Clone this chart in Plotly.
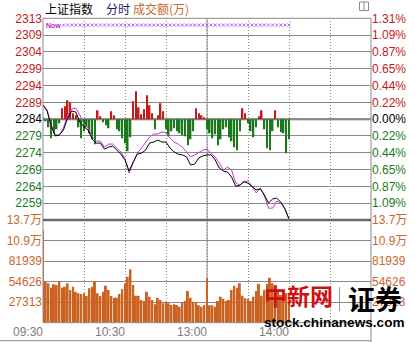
import plotly.graph_objects as go

# ---------------- data ----------------
# time axis: trading minutes after 09:30 (11:30 and 13:00 share minute 120)
grid_minutes = [0, 30, 60, 90, 120, 150, 180, 210, 240]
time_labels = ["09:30", "", "10:30", "", "13:00", "", "14:00", "", ""]

prev_close = 2284.0
price_step = 4.987
price_levels = [6, 5, 4, 3, 2, 1, 0, -1, -2, -3, -4, -5]
price_labels = ["2313", "2309", "2304", "2299", "2294", "2289", "2284",
                "2279", "2274", "2269", "2264", "2259"]
pct_labels = ["1.31%", "1.09%", "0.87%", "0.65%", "0.44%", "0.22%", "0.00%",
              "0.22%", "0.44%", "0.65%", "0.87%", "1.09%"]

vol_max = 136565
vol_ticks = [27313, 54626, 81939, 109252, 136565]
vol_labels = ["27313", "54626", "81939", "10.9万", "13.7万"]

line_minutes = list(range(0, 181, 3))
index_close = [
    2288.2, 2286.4, 2282.0, 2279.0, 2279.3, 2280.8, 2284.3, 2286.4, 2286.1, 2283.1,
    2281.7, 2280.8, 2278.1, 2276.9, 2276.9, 2275.1, 2275.7, 2276.0, 2274.8, 2273.6,
    2271.9, 2268.6, 2271.3, 2273.6, 2273.9, 2274.8, 2276.9, 2277.2, 2277.8, 2277.2,
    2277.2, 2275.4, 2274.3, 2273.6, 2273.4, 2272.8, 2270.4, 2270.7, 2272.5, 2273.1,
    2273.4, 2273.4, 2271.9, 2269.5, 2268.6, 2268.3, 2266.8, 2264.1, 2264.4, 2265.4,
    2265.0, 2263.9, 2263.0, 2263.3, 2261.5, 2259.1, 2260.3, 2260.6, 2259.4, 2257.4,
    2254.4]
index_avg = [
    2288.2, 2286.7, 2282.3, 2279.3, 2279.3, 2281.4, 2285.2, 2287.0, 2287.3, 2285.2,
    2282.5, 2281.4, 2278.7, 2277.5, 2277.5, 2275.7, 2276.6, 2276.6, 2275.4, 2274.3,
    2272.2, 2268.0, 2271.0, 2273.9, 2275.4, 2276.9, 2278.7, 2279.6, 2279.6, 2280.2,
    2279.9, 2278.4, 2277.2, 2276.6, 2275.7, 2274.3, 2272.8, 2273.4, 2274.0, 2274.8,
    2275.1, 2273.9, 2272.8, 2271.0, 2268.9, 2269.8, 2268.9, 2265.1, 2264.4, 2265.6,
    2265.6, 2264.1, 2262.1, 2263.6, 2261.2, 2257.6, 2257.6, 2259.7, 2259.1, 2257.4,
    2254.3]

bar_minutes = list(range(0, 181, 2))
strength = [
    2, -2, -8, -19, -14, -10, -4, 11, 13, 19,
    17, 6, 4, -8, -19, -12, -8, -14, -20, -25,
    9, 3, -3, -6, -9, 8, 4, -10, -12, -19,
    -24, -32, -18, 18, 28, 12, 5, 10, 24, 14,
    6, -10, 4, 16, 8, -10, -17, -12, -9, -12,
    -14, -16, -17, -26, -20, -12, 11, 6, 4, 2,
    -10, -14, -19, -15, -26, -20, -10, -8, -18, -22,
    -28, -31, -12, 11, 6, -4, -12, -18, -8, 3,
    9, -10, -29, -31, -12, 9, -8, -13, -14, -34,
    -20]
volume = [
    123000, 54500, 52400, 46500, 51000, 50100, 55400, 46500, 47900, 52400,
    43500, 47900, 41200, 39100, 38200, 39100, 35500, 45700, 47900, 55400,
    39100, 35500, 41200, 49200, 43500, 35500, 33200, 33200, 38200, 44800,
    52400, 61000, 71000, 50000, 35900, 35900, 30200, 28900, 41200, 34600,
    30200, 24500, 33200, 30200, 25800, 27900, 25800, 23500, 24500, 23500,
    21300, 27100, 28900, 42200, 33200, 27900, 27100, 23100, 21300, 23500,
    59000, 23100, 23100, 21300, 28900, 34600, 31900, 28900, 30200, 43500,
    49200, 46500, 52400, 35900, 32400, 31900, 28900, 34600, 42200, 51500,
    35900, 43500, 51500, 59800, 52400, 43500, 41200, 36800, 39100, 39100,
    36800]

marker_minutes = list(range(15, 181, 3))
marker_level = 2311.9

# ---------------- styles ----------------
W, H = 415, 342
FONT = "Liberation Sans, Arial, Noto Sans CJK SC, sans-serif"
CJK = "Noto Sans CJK SC, sans-serif"
RED = "#c41a1a"
GREEN = "#1a7a1a"
BLACK = "#000000"
MAG = "#c238c8"
ORANGE = "#cc6222"
VOLTXT = "#c8682e"
GRID = "#8a8a8a"
DARK = "#6a6a6a"


def px(x):
    return x / W


def py(y):
    return 1 - y / H


x_dom = [px(43), px(371)]
price_dom = [py(220), py(18.3)]
vol_dom = [py(322.7), py(220)]
S = 100.85

price_vals = [prev_close + k * price_step for k in price_levels]
p_range = [prev_close - 6 * price_step, prev_close + 6 * price_step]


def col_for(v):
    if v > prev_close + 0.01:
        return RED
    if v < prev_close - 0.01:
        return GREEN
    return BLACK


left_text = ['<span style="color:%s">%s</span>' % (col_for(v), t)
             for v, t in zip(price_vals, price_labels)]
right_text = ['<span style="color:%s">%s</span>' % (col_for(v), t)
              for v, t in zip(price_vals, pct_labels)]
vol_text = ['<span style="color:%s">%s</span>' % (VOLTXT, t) for t in vol_labels]

fig = go.Figure()
fig.add_trace(go.Bar(x=bar_minutes, y=strength, width=1.15,
                     marker=dict(color=[RED if v > 0 else GREEN for v in strength],
                                 line=dict(width=0)),
                     xaxis="x", yaxis="y", hoverinfo="skip"))
fig.add_trace(go.Scatter(x=line_minutes, y=index_avg, mode="lines",
                         line=dict(color=MAG, width=1), xaxis="x", yaxis="y2",
                         hoverinfo="skip"))
fig.add_trace(go.Scatter(x=line_minutes, y=index_close, mode="lines",
                         line=dict(color=BLACK, width=1), xaxis="x", yaxis="y2",
                         hoverinfo="skip"))
fig.add_trace(go.Scatter(x=marker_minutes, y=[marker_level] * len(marker_minutes),
                         mode="markers",
                         marker=dict(symbol="x-thin-open", size=3,
                                     line=dict(width=1, color=MAG)),
                         xaxis="x", yaxis="y2", hoverinfo="skip"))
fig.add_trace(go.Bar(x=bar_minutes, y=volume, width=1.45,
                     marker=dict(color=ORANGE, line=dict(width=0)),
                     xaxis="x", yaxis="y3", hoverinfo="skip"))
# percent scale (right side of price panel) and right volume scale
fig.add_trace(go.Scatter(x=line_minutes, y=index_close, mode="lines",
                         line=dict(width=0), opacity=0, xaxis="x", yaxis="y5",
                         hoverinfo="skip"))
fig.add_trace(go.Scatter(x=bar_minutes, y=volume, mode="lines",
                         line=dict(width=0), opacity=0, xaxis="x", yaxis="y4",
                         hoverinfo="skip"))

axis_common = dict(fixedrange=True, zeroline=False, ticks="", showline=False,
                   automargin=False)

fig.update_layout(
    width=W, height=H, margin=dict(l=0, r=0, t=0, b=0, autoexpand=False),
    paper_bgcolor="white", plot_bgcolor="white", showlegend=False,
    barmode="overlay", font=dict(family=FONT, size=12),
    xaxis=dict(domain=x_dom, range=[0, 240], anchor="y3",
               tickvals=grid_minutes, ticktext=time_labels,
               ticklabelposition="outside left",
               showgrid=True, gridcolor=GRID, griddash="1px,2px", gridwidth=1,
               tickfont=dict(color="#7a7a7a", size=12, family=FONT),
               **axis_common),
    yaxis=dict(domain=price_dom, anchor="x", range=[-S, S],
               showticklabels=False, showgrid=False, **axis_common),
    yaxis2=dict(overlaying="y", side="left", anchor="x", range=p_range,
                tickvals=price_vals, ticktext=left_text,
                showgrid=True, gridcolor=GRID, gridwidth=1,
                tickfont=dict(size=12, family=FONT), **axis_common),
    yaxis5=dict(overlaying="y", side="right", anchor="x", range=p_range,
                tickvals=price_vals, ticktext=right_text, showgrid=False,
                tickfont=dict(size=12, family=FONT), **axis_common),
    yaxis3=dict(domain=vol_dom, anchor="x", range=[0, vol_max],
                tickvals=vol_ticks, ticktext=vol_text,
                showgrid=True, gridcolor=GRID, gridwidth=1,
                tickfont=dict(size=12, family=FONT), **axis_common),
    yaxis4=dict(overlaying="y3", side="right", anchor="x", range=[0, vol_max],
                tickvals=vol_ticks, ticktext=vol_text, showgrid=False,
                tickfont=dict(size=12, family=FONT), **axis_common),
)

shapes = [
    # panel borders
    dict(type="rect", xref="x domain", yref="y domain", x0=0, x1=1, y0=0, y1=1,
         line=dict(color=GRID, width=1), layer="above"),
    dict(type="rect", xref="x domain", yref="y3 domain", x0=0, x1=1, y0=0, y1=1,
         line=dict(color=GRID, width=1), layer="above"),
    # solid midday line
    dict(type="line", xref="x", yref="paper", x0=120, x1=120,
         y0=vol_dom[0], y1=price_dom[1], line=dict(color=GRID, width=1),
         layer="below"),
    # previous-close line
    dict(type="line", xref="x domain", yref="y2", x0=0, x1=1,
         y0=prev_close, y1=prev_close, line=dict(color=DARK, width=2),
         layer="below"),
    # divider between price and volume panels
    dict(type="line", xref="x domain", yref="paper", x0=0, x1=1,
         y0=price_dom[0], y1=price_dom[0], line=dict(color=DARK, width=2.5),
         layer="above"),
    # right border down to the bottom & bottom rule
    dict(type="line", xref="paper", yref="paper", x0=x_dom[1], x1=x_dom[1],
         y0=0, y1=vol_dom[0], line=dict(color=GRID, width=1)),
    dict(type="line", xref="paper", yref="paper", x0=0, x1=x_dom[1],
         y0=py(340.7), y1=py(340.7), line=dict(color=GRID, width=1)),
    # small icon top right
    dict(type="rect", xref="paper", yref="paper", x0=px(359.5), x1=px(368.5),
         y0=py(10.5), y1=py(2), line=dict(color="#8a8a8a", width=1)),
    dict(type="line", xref="paper", yref="paper", x0=px(364), x1=px(364),
         y0=py(10.5), y1=py(2), line=dict(color="#8a8a8a", width=1)),
    # watermark separator
    dict(type="line", xref="paper", yref="paper", x0=px(339.5), x1=px(339.5),
         y0=py(311), y1=py(287), line=dict(color="#9a9a9a", width=1)),
]
fig.update_layout(shapes=shapes)

ann = [
    dict(text="上证指数", x=px(43), y=py(8.5), font=dict(family=CJK, size=12, color="#000000")),
    dict(text="分时", x=px(104), y=py(8.5), font=dict(family=CJK, size=12, color="#1a1a70")),
    dict(text="成交额(万)", x=px(131), y=py(8.5), font=dict(family=CJK, size=12, color="#c8682e")),
    dict(text="<b>Now</b>", x=px(44), y=py(25.5), font=dict(family=FONT, size=7, color="#c020c8")),
    dict(text="<b>中新网</b>", x=px(262), y=py(295), font=dict(family=CJK, size=23, color="#d01010")),
    dict(text="<b>证券</b>", x=px(346), y=py(298), font=dict(family=CJK, size=27, color="#000000")),
    dict(text="<b>stock.chinanews.com</b>", x=px(262), y=py(322), font=dict(family=FONT, size=13.6, color="#000000")),
]
for a in ann:
    a.update(xref="paper", yref="paper", xanchor="left", yanchor="middle",
             showarrow=False)
fig.update_layout(annotations=ann)

fig.write_html("out.html")
